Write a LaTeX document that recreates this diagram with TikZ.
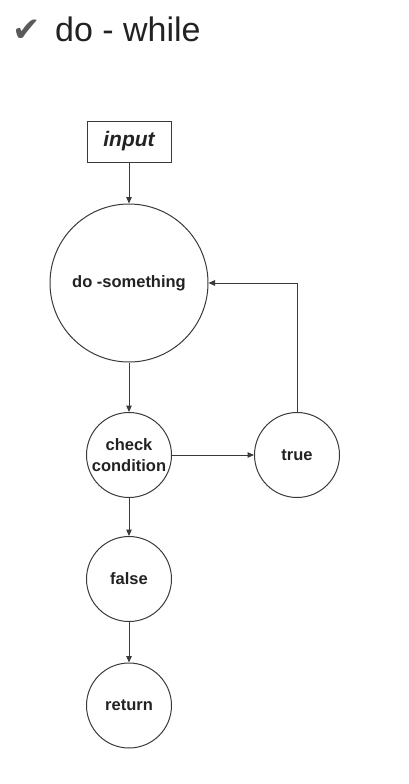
\documentclass[tikz,border=0pt]{standalone}
\usepackage{fontspec}
\setmainfont{Liberation Sans}
\newfontfamily\symfont{DejaVu Sans}
\usetikzlibrary{arrows.meta}
\definecolor{linec}{HTML}{3A3A3A}
\definecolor{textc}{HTML}{222222}
\definecolor{checkc}{HTML}{5A5A5A}
\tikzset{
  flownode/.style={draw=linec, line width=1pt, text=textc, font=\fontsize{16.5}{21}\selectfont\bfseries, align=center, inner sep=0pt},
  bigcirc/.style={flownode, circle, minimum size=158pt},
  smallcirc/.style={flownode, circle, minimum size=85pt},
  inbox/.style={flownode, rectangle, minimum width=84pt, minimum height=41pt, font=\fontsize{21}{24}\selectfont\bfseries\itshape},
  conn/.style={draw=linec, line width=1pt, -{Triangle[length=6.5pt,width=5.5pt]}}
}
\begin{document}
\begin{tikzpicture}[x=1pt,y=-1pt]
\useasboundingbox (0,0) rectangle (408,784);
\node[anchor=center, text=checkc, font=\symfont\fontsize{34}{36}\selectfont, inner sep=0pt] (chk) at (27,31) {✔};
\node[anchor=base west, text=textc, font=\fontsize{34}{40}\selectfont, inner sep=0pt] (title) at (55,42) {do - while};
\node[inbox] (input) at (129,141.5) {input};
\node[bigcirc] (do) at (129,283) {do -something};
\node[smallcirc] (check) at (129,455) {check\\condition};
\node[smallcirc] (true) at (297,455) {true};
\node[smallcirc] (false) at (129,579) {false};
\node[smallcirc] (ret) at (129,705.5) {return};
\coordinate (corner) at (true.north |- do.east);
\draw[conn] (input) -- (do);
\draw[conn] (do) -- (check);
\draw[conn] (check) -- (true);
\draw[conn] (true.north) -- (corner) -- (do.east);
\draw[conn] (check) -- (false);
\draw[conn] (false) -- (ret);
\end{tikzpicture}
\end{document}
